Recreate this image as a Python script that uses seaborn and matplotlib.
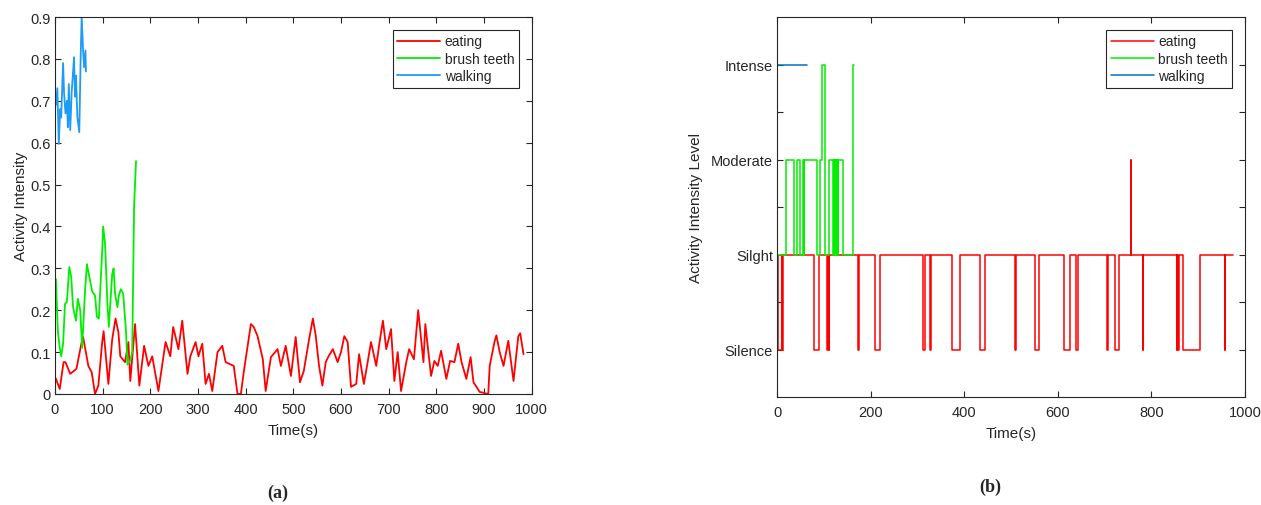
import numpy as np
import pandas as pd
import matplotlib
matplotlib.use("Agg")
import matplotlib.pyplot as plt
import seaborn as sns

# ---- panel (a): continuous activity intensity ----
eat_t = [0, 2, 10, 18, 22, 32, 45, 56, 59, 70, 77, 84, 91, 99, 102, 112, 120, 127, 133, 137,
         147, 154, 158, 168, 177, 187, 196, 204, 217, 232, 242, 248, 259, 267, 278, 284, 295,
         301, 309, 316, 323, 330, 341, 351, 358, 375, 383, 390, 396, 411, 417, 425, 436, 442,
         453, 467, 474, 484, 495, 505, 514, 522, 533, 541, 547, 554, 561, 568, 574, 583, 593,
         600, 607, 614, 621, 632, 638, 648, 656, 663, 674, 681, 688, 695, 705, 712, 719, 726,
         737, 743, 753, 762, 773, 777, 781, 789, 796, 803, 810, 821, 829, 838, 846, 853, 863,
         872, 878, 891, 909, 912, 922, 926, 933, 941, 951, 962, 972, 976, 983]
eat_v = [0.04, 0.036, 0.012, 0.076, 0.076, 0.048, 0.06, 0.124, 0.136, 0.067, 0.052, 0.0, 0.02,
         0.124, 0.15, 0.024, 0.13, 0.18, 0.148, 0.09, 0.076, 0.124, 0.031, 0.167, 0.02, 0.115,
         0.067, 0.09, 0.007, 0.124, 0.09, 0.16, 0.107, 0.175, 0.048, 0.09, 0.124, 0.09, 0.12,
         0.024, 0.048, 0.007, 0.1, 0.115, 0.076, 0.067, 0.0, 0.0, 0.052, 0.167, 0.16, 0.138,
         0.083, 0.007, 0.088, 0.107, 0.067, 0.115, 0.043, 0.136, 0.028, 0.055, 0.13, 0.18, 0.14,
         0.067, 0.02, 0.076, 0.09, 0.107, 0.076, 0.1, 0.138, 0.124, 0.017, 0.024, 0.095, 0.024,
         0.076, 0.124, 0.067, 0.124, 0.175, 0.107, 0.155, 0.031, 0.1, 0.007, 0.076, 0.107, 0.083,
         0.2, 0.076, 0.167, 0.124, 0.043, 0.079, 0.067, 0.103, 0.036, 0.079, 0.076, 0.12, 0.076,
         0.036, 0.088, 0.028, 0.005, 0.0, 0.067, 0.124, 0.14, 0.1, 0.067, 0.127, 0.031, 0.138,
         0.145, 0.095]

brush_t = [0, 2, 6, 10, 13, 17, 21, 25, 30, 34, 38, 44, 48, 53, 57, 63, 67, 72, 78, 84, 88, 92,
           99, 101, 105, 110, 113, 120, 123, 126, 131, 134, 138, 143, 149, 152, 158, 162, 166, 170]
brush_v = [0.27, 0.274, 0.15, 0.11, 0.09, 0.12, 0.215, 0.22, 0.303, 0.28, 0.207, 0.175, 0.227,
           0.2, 0.11, 0.245, 0.31, 0.28, 0.245, 0.235, 0.184, 0.18, 0.34, 0.4, 0.36, 0.215, 0.16,
           0.286, 0.3, 0.24, 0.207, 0.235, 0.25, 0.24, 0.15, 0.07, 0.08, 0.1, 0.45, 0.556]

walk_t = [0, 2, 5, 8, 11, 13, 17, 19, 22, 25, 27, 29, 32, 35, 40, 42, 44, 47, 51, 54, 56, 59,
          61, 64, 65]
walk_v = [0.7, 0.69, 0.73, 0.597, 0.68, 0.66, 0.79, 0.72, 0.67, 0.7, 0.637, 0.74, 0.63, 0.72,
          0.804, 0.71, 0.76, 0.66, 0.625, 0.81, 0.9, 0.82, 0.78, 0.82, 0.77]

# ---- panel (b): discrete intensity level (change points, steps-post) ----
eat_lvl_t = [0, 2, 10, 11, 12, 79, 90, 107, 108, 110, 112, 174, 175, 210, 220, 312, 316, 326,
             330, 373, 390, 434, 444, 508, 510, 552, 559, 613, 626, 639, 644, 705, 707, 723, 730,
             756, 757, 781, 782, 854, 855, 857, 858, 868, 904, 957, 958, 975]
eat_lvl = [1, 0, 1, 0, 1, 0, 1, 0, 1, 0, 1, 0, 1, 0, 1, 0, 1, 0, 1, 0, 1, 0, 1, 0, 1, 0, 1, 0,
           1, 0, 1, 0, 1, 0, 1, 2, 1, 0, 1, 0, 1, 0, 1, 0, 1, 0, 1, 1]

brush_lvl_t = [0, 1, 19, 36, 42, 49, 56, 57.5, 58.5, 86, 92, 95.5, 102.5, 110, 120, 121, 122,
               123, 124, 125, 126, 127, 128, 129, 130, 131, 140, 162, 165]
brush_lvl = [2, 1, 2, 1, 2, 1, 2, 1, 2, 1, 2, 3, 1, 2, 1, 2, 1, 2, 1, 2, 1, 2, 1, 2, 1, 2, 1,
             3, 3]

walk_lvl_t = [0, 63]
walk_lvl = [3, 3]

level_names = ["Silence", "Silght", "Moderate", "Intense"]

RED = "#ff0000"
GREEN = "#00ee00"
BLUE_A = "#1e9bf5"
BLUE_B = "#0072bd"
INK = "#262626"

sns.set_style("ticks")
plt.rcParams["font.family"] = ["Liberation Sans", "DejaVu Sans"]

fig = plt.figure(figsize=(12.61, 5.06), dpi=100)
ax1 = fig.add_axes([0.0436, 0.2194, 0.378, 0.745])
ax2 = fig.add_axes([0.6162, 0.2134, 0.3711, 0.751])

sns.lineplot(x=eat_t, y=eat_v, ax=ax1, color=RED, lw=1.3, label="eating", estimator=None)
sns.lineplot(x=brush_t, y=brush_v, ax=ax1, color=GREEN, lw=1.3, label="brush teeth", estimator=None)
sns.lineplot(x=walk_t, y=walk_v, ax=ax1, color=BLUE_A, lw=1.3, label="walking", estimator=None)

sns.lineplot(x=eat_lvl_t, y=eat_lvl, ax=ax2, color=RED, lw=1.1, label="eating",
             estimator=None, drawstyle="steps-post")
sns.lineplot(x=brush_lvl_t, y=brush_lvl, ax=ax2, color=GREEN, lw=1.1, label="brush teeth",
             estimator=None, drawstyle="steps-post")
sns.lineplot(x=walk_lvl_t, y=walk_lvl, ax=ax2, color=BLUE_B, lw=1.1, label="walking",
             estimator=None, drawstyle="steps-post")

ax1.set_xlim(0, 1000)
ax1.set_ylim(0, 0.9)
ax1.set_xticks(np.arange(0, 1001, 100))
ax1.set_yticks(np.arange(0, 0.91, 0.1))
ax1.set_yticklabels(["0"] + [f"{v:.1f}" for v in np.arange(0.1, 0.91, 0.1)])
ax1.set_ylabel("Activity Intensity", fontsize=11, color=INK, labelpad=2)

ax2.set_xlim(0, 1000)
ax2.set_ylim(-0.5, 3.5)
ax2.set_xticks(np.arange(0, 1001, 200))
ax2.set_yticks(np.arange(0, 3.01, 0.5))
ax2.set_yticklabels([level_names[int(v)] if v == int(v) else "" for v in np.arange(0, 3.01, 0.5)])
ax2.set_ylabel("Activity Intensity Level", fontsize=11, color=INK, labelpad=6)

for ax in (ax1, ax2):
    ax.set_xlabel("Time(s)", fontsize=11, color=INK, labelpad=5)
    for sp in ax.spines.values():
        sp.set_visible(True)
        sp.set_color(INK)
        sp.set_linewidth(0.8)
    ax.tick_params(direction="in", top=True, right=True, length=4, width=0.8,
                   colors=INK, labelsize=10.5, pad=3)
    ax.tick_params(axis="x", pad=6)
    leg = ax.legend(loc="upper right", fontsize=10, fancybox=False, framealpha=1,
                    edgecolor=INK, handlelength=3.1, borderaxespad=0.9,
                    borderpad=0.35, labelspacing=0.25, handletextpad=0.3)
    leg.get_frame().set_linewidth(0.8)

fig.text(0.2205, 0.026, "(a)", ha="center", va="center", fontsize=13,
         fontweight="bold", family=["Liberation Serif", "DejaVu Serif"])
fig.text(0.785, 0.036, "(b)", ha="center", va="center", fontsize=13,
         fontweight="bold", family=["Liberation Serif", "DejaVu Serif"])

fig.savefig("out.png", dpi=100)
